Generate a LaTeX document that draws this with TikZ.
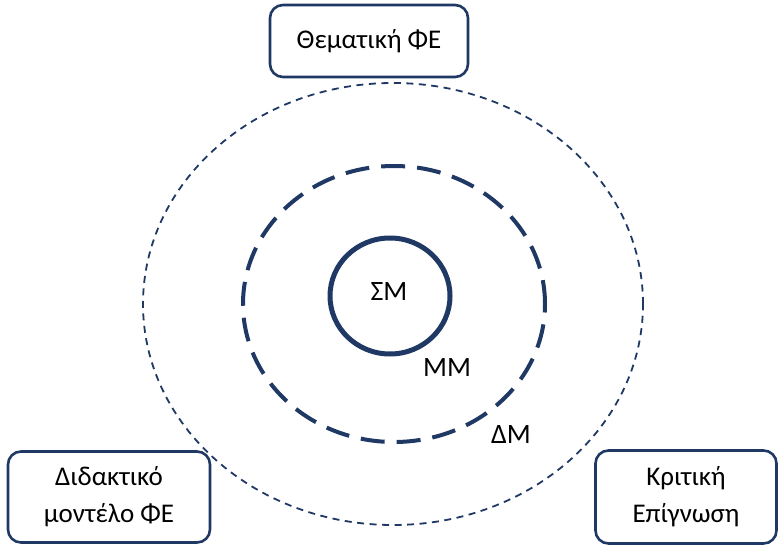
\documentclass[tikz,border=0pt]{standalone}
\usepackage{fontspec}
\setmainfont{Carlito}
\definecolor{navy}{HTML}{1F3864}

\begin{document}
\begin{tikzpicture}[x = 1pt, y = -1pt,
        box/.style = {draw=navy, line width=2.6pt, rounded corners=13pt, fill=white,
                      align=center, font=\fontsize{27}{37}\selectfont},
        lbl/.style = {font=\fontsize{28}{32}\selectfont}]

            \useasboundingbox (0,0) rectangle (781,548);

            % rings
            \draw[navy, line width=1.8pt, dash pattern=on 7pt off 5.5pt]
                (393,304) ellipse [x radius=250pt, y radius=221pt];
            \draw[navy, line width=4pt, dash pattern=on 24pt off 12pt]
                (394,304) ellipse [x radius=151pt, y radius=138pt];
            \draw[navy, line width=5pt]
                (390,296) ellipse [x radius=60pt, y radius=58pt];

            \node[lbl] (sm) at (389,292) {ΣΜ};
            \node[lbl] (mm) at (447,368) {ΜΜ};
            \node[lbl] (dm) at (511,435) {ΔΜ};

            % frames
            \node[box, minimum width=198pt, minimum height=72pt] (theme) at (369,41) {Θεματική ΦΕ};
            \node[box, minimum width=202pt, minimum height=91pt] (model) at (109,497) {Διδακτικό\\μοντέλο ΦΕ};
            \node[box, minimum width=181pt, minimum height=93pt] (aware) at (686,497) {Κριτική\\Επίγνωση};
        \end{tikzpicture}
\end{document}
